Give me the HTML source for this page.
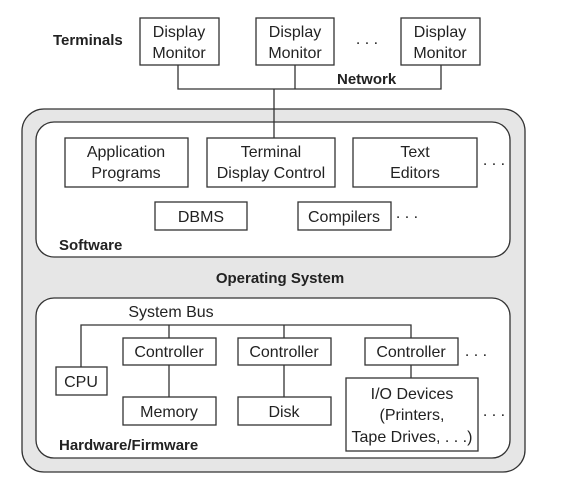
<!DOCTYPE html>
<html><head><meta charset="utf-8"><style>
html,body{margin:0;padding:0;background:#fff;}
svg text{font-family:"Liberation Sans",sans-serif;fill:#222;}
.t{font-size:16px;text-anchor:middle;}
.b{font-size:15px;font-weight:bold;}
</style></head><body>
<svg width="562" height="482" viewBox="0 0 562 482" xmlns="http://www.w3.org/2000/svg">
<g fill="none" stroke="#333" stroke-width="1.3">
<rect x="22" y="109" width="503" height="363" rx="22" fill="#e6e6e6"/>
<rect x="36" y="122" width="474" height="135" rx="18" fill="#fff"/>
<rect x="36" y="298" width="474" height="160" rx="18" fill="#fff"/>
<rect x="140" y="18" width="79" height="47" fill="#fff"/>
<rect x="256" y="18" width="78" height="47" fill="#fff"/>
<rect x="401" y="18" width="79" height="47" fill="#fff"/>
<polyline points="178,65 178,89 441,89 441,65"/>
<line x1="295" y1="65" x2="295" y2="89"/>
<line x1="274" y1="89" x2="274" y2="138"/>
<rect x="65" y="138" width="123" height="49"/>
<rect x="207" y="138" width="128" height="49"/>
<rect x="353" y="138" width="124" height="49"/>
<rect x="155" y="202" width="92" height="28"/>
<rect x="298" y="202" width="93" height="28"/>
<polyline points="81,367 81,325 411,325 411,338"/>
<line x1="169" y1="325" x2="169" y2="397"/>
<line x1="284" y1="325" x2="284" y2="397"/>
<line x1="411" y1="365" x2="411" y2="378"/>
<rect x="123" y="338" width="93" height="27" fill="#fff"/>
<rect x="238" y="338" width="93" height="27" fill="#fff"/>
<rect x="365" y="338" width="93" height="27"/>
<rect x="56" y="367" width="51" height="28"/>
<rect x="123" y="397" width="93" height="28"/>
<rect x="238" y="397" width="93" height="28"/>
<rect x="346" y="378" width="132" height="73"/>
</g>
<text class="b" x="53" y="45">Terminals</text>
<text class="t" x="179" y="37">Display</text><text class="t" x="179" y="58">Monitor</text>
<text class="t" x="295" y="37">Display</text><text class="t" x="295" y="58">Monitor</text>
<text class="t" x="440" y="37">Display</text><text class="t" x="440" y="58">Monitor</text>
<text class="t" x="367" y="44">. . .</text>
<text class="b" x="337" y="84">Network</text>
<text class="t" x="126" y="157">Application</text><text class="t" x="126" y="178">Programs</text>
<text class="t" x="271" y="157">Terminal</text><text class="t" x="271" y="178">Display Control</text>
<text class="t" x="415" y="157">Text</text><text class="t" x="415" y="178">Editors</text>
<text class="t" x="494" y="165">. . .</text>
<text class="t" x="201" y="222">DBMS</text>
<text class="t" x="344" y="222">Compilers</text>
<text class="t" x="407" y="218">. . .</text>
<text class="b" x="59" y="250">Software</text>
<text class="b" x="280" y="283" text-anchor="middle">Operating System</text>
<text class="t" x="171" y="317">System Bus</text>
<text class="t" x="169" y="357">Controller</text>
<text class="t" x="284" y="357">Controller</text>
<text class="t" x="411" y="357">Controller</text>
<text class="t" x="476" y="356">. . .</text>
<text class="t" x="81" y="387">CPU</text>
<text class="t" x="169" y="417">Memory</text>
<text class="t" x="284" y="417">Disk</text>
<text class="t" x="412" y="399">I/O Devices</text>
<text class="t" x="412" y="420">(Printers,</text>
<text class="t" x="412" y="442">Tape Drives, . . .)</text>
<text class="t" x="494" y="416">. . .</text>
<text class="b" x="59" y="450">Hardware/Firmware</text>
</svg>
</body></html>
